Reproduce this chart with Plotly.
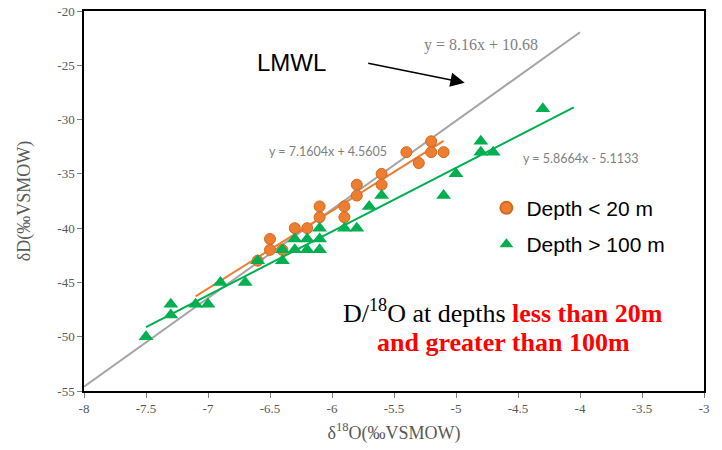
import plotly.graph_objects as go

# ---- data ----
shallow_x = [-5.2, -5.4, -5.2, -5.1, -5.3, -5.6, -5.6, -5.8, -5.8, -5.9, -5.9,
             -6.1, -6.1, -6.2, -6.3, -6.5, -6.5, -6.4, -6.6]
shallow_y = [-32, -33, -33, -33, -34, -35, -36, -36, -37, -38, -39,
             -38, -39, -40, -40, -41, -42, -42, -43]

deep_x = [-7.5, -7.3, -7.3, -7.1, -7.0, -6.9, -6.7, -6.6, -6.4, -6.4, -6.3, -6.3,
          -6.2, -6.2, -6.1, -6.1, -6.1, -5.9, -5.8, -5.7, -5.6, -5.1, -5.0,
          -4.8, -4.8, -4.7, -4.3]
deep_y = [-50, -47, -48, -47, -47, -45, -45, -43, -42, -43, -41, -42,
          -41, -42, -40, -41, -42, -40, -40, -38, -37, -37, -35,
          -32, -33, -33, -29]

lmwl_slope, lmwl_icept = 8.16, 10.68
lmwl_range = [-8.0, -4.0]
shallow_fit = (7.1604, 4.5605)
shallow_range = [-7.1, -5.1]
deep_fit = (5.8664, -5.1133)
deep_range = [-7.5, -4.05]

x_ticks = [-8, -7.5, -7, -6.5, -6, -5.5, -5, -4.5, -4, -3.5, -3]
x_tick_text = ["-8", "-7.5", "-7", "-6.5", "-6", "-5.5", "-5", "-4.5", "-4", "-3.5", "-3"]
y_ticks = [-20, -25, -30, -35, -40, -45, -50, -55]
y_tick_text = ["-20", "-25", "-30", "-35", "-40", "-45", "-50", "-55"]

ORANGE = "#ED7D31"
GREEN = "#00B050"
GRAY = "#A5A5A5"
SERIF = "Liberation Serif, Times New Roman, serif"
SANS = "Liberation Sans, Arial, sans-serif"

fig = go.Figure()

def line_pts(fit, rng):
    m, b = fit
    return rng, [m * v + b for v in rng]

lx, ly = line_pts((lmwl_slope, lmwl_icept), lmwl_range)
fig.add_trace(go.Scatter(x=lx, y=ly, mode="lines", line=dict(color=GRAY, width=2),
                         showlegend=False, hoverinfo="skip"))

dx, dy = line_pts(deep_fit, deep_range)
fig.add_trace(go.Scatter(x=dx, y=dy, mode="lines", line=dict(color=GREEN, width=2),
                         showlegend=False, hoverinfo="skip"))

sx, sy = line_pts(shallow_fit, shallow_range)
fig.add_trace(go.Scatter(x=sx, y=sy, mode="lines", line=dict(color=ORANGE, width=2),
                         showlegend=False, hoverinfo="skip"))

fig.add_trace(go.Scatter(x=shallow_x, y=shallow_y, mode="markers", name="Depth < 20 m",
                         legendgroup="a",
                         marker=dict(symbol="circle", size=11, color=ORANGE,
                                     line=dict(color="#D2691E", width=1))))
fig.add_trace(go.Scatter(x=deep_x, y=deep_y, mode="markers", name="Depth > 100 m",
                         legendgroup="b",
                         marker=dict(symbol="triangle-up", size=13, color=GREEN,
                                     line=dict(width=0))))

fig.update_layout(
    width=722, height=450,
    margin=dict(l=84, r=18, t=11, b=59),
    paper_bgcolor="white", plot_bgcolor="white",
    showlegend=True,
    legend=dict(x=0.649, y=0.535, xanchor="left", yanchor="top",
                font=dict(family=SANS, size=21, color="black"),
                bgcolor="rgba(0,0,0,0)", traceorder="grouped", tracegroupgap=6,
                itemsizing="constant"),
    xaxis=dict(range=[-8, -3], tickvals=x_ticks, ticktext=x_tick_text,
               showgrid=False, zeroline=False, automargin=False,
               ticklabeloverflow="allow",
               showline=True, linecolor="black", linewidth=1.5, mirror=True,
               ticks="outside", ticklen=5, tickcolor="#7f7f7f",
               tickfont=dict(family=SERIF, size=13, color="#595959"),
               title=dict(text="δ<sup>18</sup>O(‰VSMOW)", standoff=11,
                          font=dict(family=SERIF, size=18, color="#595959"))),
    yaxis=dict(range=[-55, -20], tickvals=y_ticks, ticktext=y_tick_text,
               showgrid=False, zeroline=False, automargin=False,
               ticklabeloverflow="allow",
               showline=True, linecolor="black", linewidth=1.5, mirror=True,
               ticks="outside", ticklen=5, tickcolor="#7f7f7f",
               tickfont=dict(family=SERIF, size=13, color="#595959"),
               title=dict(text="δD(‰VSMOW)", standoff=22,
                          font=dict(family=SERIF, size=18, color="#595959"))),
)

annots = [
    dict(x=-6.33, y=-24.7, text="LMWL", showarrow=False,
         font=dict(family=SANS, size=24, color="black")),
    dict(x=-4.80, y=-23.13, text="y = 8.16x + 10.68", showarrow=False,
         font=dict(family=SERIF, size=16, color="#7f7f7f")),
    dict(x=-6.03, y=-32.98, text="y = 7.1604x + 4.5605", showarrow=False,
         font=dict(family="Lato, sans-serif", size=12.5, color="#7f7f7f")),
    dict(x=-4.0, y=-33.63, text="y = 5.8664x - 5.1133", showarrow=False,
         font=dict(family="Lato, sans-serif", size=12.5, color="#7f7f7f")),
    dict(x=-4.62, y=-47.72,
         text="D/<sup>18</sup>O at depths <span style='color:#FF0000'><b>less than 20m</b></span>",
         showarrow=False, font=dict(family=SERIF, size=26, color="black")),
    dict(x=-4.62, y=-50.57, text="<b>and greater than 100m</b>", showarrow=False,
         font=dict(family=SERIF, size=26, color="#FF0000")),
    dict(x=-4.93, y=-26.6, ax=-5.72, ay=-24.79, axref="x", ayref="y",
         text="", showarrow=True, arrowhead=2,
         arrowsize=1.9, arrowwidth=1.5, arrowcolor="black", standoff=0),
]
for a in annots:
    a.setdefault("xref", "x")
    a.setdefault("yref", "y")
    fig.add_annotation(**a)

fig.write_html("out.html", config={"displayModeBar": False},
               post_script="document.body.style.margin='0';")
